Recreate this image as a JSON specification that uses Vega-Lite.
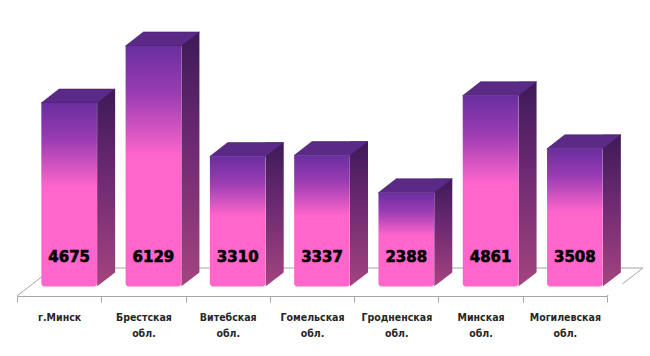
{
  "$schema": "https://vega.github.io/schema/vega-lite/v6.json",
  "width": 590,
  "height": 296,
  "padding": {"left": 17, "top": 0, "right": 43, "bottom": 60},
  "autosize": {"type": "none"},
  "background": "white",
  "config": {"view": {"stroke": null}},
  "data": {
    "values": [
      {"cat": "г.Минск", "v": 4675},
      {"cat": "Брестская обл.", "v": 6129},
      {"cat": "Витебская обл.", "v": 3310},
      {"cat": "Гомельская обл.", "v": 3337},
      {"cat": "Гродненская обл.", "v": 2388},
      {"cat": "Минская обл.", "v": 4861},
      {"cat": "Могилевская обл.", "v": 3508}
    ]
  },
  "encoding": {
    "x": {
      "field": "cat",
      "type": "nominal",
      "sort": null,
      "scale": {
        "domain": ["г.Минск", "Брестская обл.", "Витебская обл.", "Гомельская обл.", "Гродненская обл.", "Минская обл.", "Могилевская обл."],
        "paddingInner": 0,
        "paddingOuter": 0
      },
      "axis": {
        "title": null,
        "labelAngle": 0,
        "labelExpr": "split(datum.label, ' ')",
        "labelFont": "DejaVu Sans Condensed, sans-serif",
        "labelFontSize": 10.5,
        "labelFontWeight": "bold",
        "labelColor": "#262626",
        "labelLineHeight": 16,
        "labelPadding": 10,
        "tickBand": "extent",
        "tickSize": 6,
        "tickColor": "#a6a6a6",
        "domainColor": "#a6a6a6",
        "grid": false
      }
    },
    "y": {
      "field": "v",
      "type": "quantitative",
      "scale": {"domain": [-242, 7301], "nice": false, "zero": false},
      "axis": null
    }
  },
  "layer": [
    {
      "transform": [{"filter": "datum.cat === 'г.Минск'"}],
      "mark": {
        "type": "point",
        "shape": "M0,0L1.2857,-1L22.357,-1L21.071,0",
        "size": 3136,
        "filled": false,
        "fill": "transparent",
        "stroke": "#a6a6a6",
        "strokeWidth": 1,
        "opacity": 1,
        "xOffset": -42.15
      },
      "encoding": {
        "y": {"datum": -242}
      }
    },
    {
      "mark": {
        "type": "bar",
        "width": 18,
        "xOffset": 47,
        "yOffset": -14,
        "fill": {
          "gradient": "linear", "x1": 0, "y1": 0, "x2": 0, "y2": 1,
          "stops": [
            {"offset": 0, "color": "#3d1a57"},
            {"offset": 0.45, "color": "#6e2a72"},
            {"offset": 1, "color": "#a4447f"}
          ]
        }
      },
      "encoding": {"y2": {"datum": 0}}
    },
    {
      "mark": {
        "type": "point",
        "shape": "M0.99,0L1.7,-0.544L1.7,0.3L0.99,0.3Z",
        "size": 3136,
        "filled": true,
        "fill": "white",
        "opacity": 1,
        "strokeWidth": 0,
        "xOffset": 10
      },
      "encoding": {"y": {"datum": 0}}
    },
    {
      "mark": {
        "type": "point",
        "shape": "M-1,0L1,0L1.643,-0.5L-0.357,-0.5Z",
        "size": 3136,
        "filled": true,
        "fill": "#5a2a86",
        "opacity": 1,
        "stroke": "#46206a",
        "strokeWidth": 0.6,
        "xOffset": 10
      }
    },
    {
      "mark": {
        "type": "bar",
        "width": {"band": 0.66},
        "xOffset": 10,
        "cornerRadiusBottomLeft": 3,
        "cornerRadiusBottomRight": 3,
        "fill": {
          "gradient": "linear", "x1": 0, "y1": 0, "x2": 0, "y2": 1,
          "stops": [
            {"offset": 0, "color": "#6a2ea0"},
            {"offset": 0.2, "color": "#9b3cb2"},
            {"offset": 0.46, "color": "#ff66cc"},
            {"offset": 1, "color": "#ff66cc"}
          ]
        }
      },
      "encoding": {"y2": {"datum": 0}}
    },
    {
      "mark": {
        "type": "text",
        "font": "DejaVu Sans",
        "fontWeight": "bold",
        "fontSize": 15,
        "color": "#000000",
        "stroke": "#000000",
        "strokeWidth": 0.6,
        "xOffset": 10,
        "baseline": "middle",
        "align": "center"
      },
      "encoding": {
        "y": {"datum": 752},
        "text": {"field": "v", "type": "quantitative", "format": "d"}
      }
    }
  ]
}
